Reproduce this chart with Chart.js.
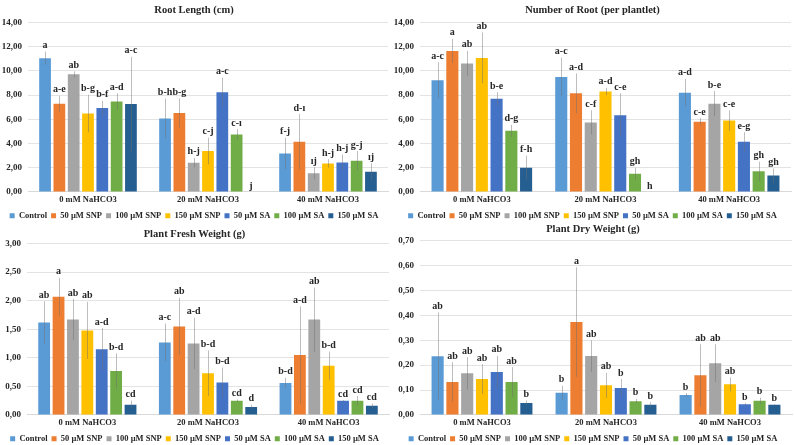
<!DOCTYPE html>
<html>
<head>
<meta charset="utf-8">
<script src="https://cdn.jsdelivr.net/npm/chart.js@4.4.1/dist/chart.umd.min.js"></script>
<style>
  body { margin: 0; background: #fff; }
  .box { position: absolute; }
</style>
</head>
<body>
<div class="box" style="left:0;top:0;width:397px;height:223px"><canvas id="rootLengthChart"></canvas></div>
<div class="box" style="left:394px;top:0;width:400px;height:223px"><canvas id="rootNumberChart"></canvas></div>
<div class="box" style="left:0;top:224px;width:397px;height:221px"><canvas id="freshWeightChart"></canvas></div>
<div class="box" style="left:394px;top:219px;width:400px;height:226px"><canvas id="dryWeightChart"></canvas></div>
<script>
// categorieen en behandelingen
const categories = ['0 mM NaHCO3', '20 mM NaHCO3', '40 mM NaHCO3'];
const treatments = ['Control', '50 µM SNP', '100 µM SNP', '150 µM SNP', '50 µM SA', '100 µM SA', '150 µM SA'];
const colors = ['#5B9BD5', '#ED7D31', '#A5A5A5', '#FFC000', '#4472C4', '#70AD47', '#255E91'];

// Root Length (cm) - per behandeling: [0 mM, 20 mM, 40 mM]
const rootLength = [
  [11.06, 6.07, 3.18], [7.30, 6.53, 4.14], [9.72, 2.42, 1.54], [6.48, 3.38, 2.36],
  [6.94, 8.24, 2.44], [7.47, 4.75, 2.58], [7.27, 0, 1.67]
];
const rootLengthErr = [
  [0.55, 1.65, 1.30], [0.65, 1.20, 2.30], [0.25, 0.40, 0.50], [1.55, 1.10, 0.35],
  [0.60, 1.20, 0.65], [0.70, 0.45, 0.80], [3.90, 0, 0.70]
];
const rootLengthLetters = [
  ['a', 'b-h', 'f-j'], ['a-e', 'b-g', 'd-ı'], ['ab', 'h-j', 'ıj'], ['b-g', 'c-j', 'h-j'],
  ['b-f', 'a-c', 'h-j'], ['a-d', 'c-ı', 'g-j'], ['a-c', 'j', 'ıj']
];

// Number of Root (per plantlet)
const rootNumber = [
  [9.23, 9.50, 8.20], [11.66, 8.15, 5.80], [10.61, 5.75, 7.30], [11.08, 8.30, 5.90],
  [7.70, 6.35, 4.15], [5.05, 1.50, 1.70], [2.00, 0, 1.35]
];
const rootNumberErr = [
  [1.50, 1.60, 1.15], [1.00, 1.65, 0.30], [1.05, 1.00, 1.05], [2.10, 0.30, 0.85],
  [0.55, 1.80, 0.80], [0.50, 0.50, 0.80], [1.00, 0, 0.60]
];
const rootNumberLetters = [
  ['a-c', 'a-c', 'a-d'], ['a', 'a-d', 'c-e'], ['ab', 'c-f', 'b-e'], ['ab', 'a-d', 'c-e'],
  ['b-e', 'c-e', 'e-g'], ['d-g', 'gh', 'gh'], ['f-h', 'h', 'gh']
];

// Plant Fresh Weight (g)
const freshWeight = [
  [1.62, 1.27, 0.56], [2.07, 1.55, 1.05], [1.67, 1.25, 1.67], [1.48, 0.73, 0.86],
  [1.15, 0.57, 0.25], [0.77, 0.25, 0.25], [0.18, 0.14, 0.16]
];
const freshWeightErr = [
  [0.37, 0.33, 0.09], [0.33, 0.50, 0.85], [0.36, 0.45, 0.56], [0.50, 0.40, 0.25],
  [0.37, 0.26, 0.01], [0.31, 0.02, 0.08], [0.07, 0.04, 0.04]
];
const freshWeightLetters = [
  ['ab', 'a-c', 'b-d'], ['a', 'ab', 'a-d'], ['ab', 'a-d', 'ab'], ['ab', 'b-d', 'b-d'],
  ['a-d', 'b-d', 'cd'], ['b-d', 'cd', 'cd'], ['cd', 'd', 'cd']
];

// Plant Dry Weight (g)
const dryWeight = [
  [0.236, 0.089, 0.080], [0.132, 0.373, 0.159], [0.167, 0.237, 0.208], [0.144, 0.119, 0.123],
  [0.172, 0.108, 0.043], [0.132, 0.055, 0.057], [0.048, 0.041, 0.041]
];
const dryWeightErr = [
  [0.175, 0.028, 0.008], [0.080, 0.220, 0.125], [0.065, 0.063, 0.076], [0.060, 0.050, 0.028],
  [0.065, 0.036, 0.005], [0.060, 0.010, 0.013], [0.010, 0.010, 0.002]
];
const dryWeightLetters = [
  ['ab', 'b', 'b'], ['ab', 'a', 'ab'], ['ab', 'ab', 'ab'], ['ab', 'ab', 'ab'],
  ['ab', 'b', 'b'], ['ab', 'b', 'b'], ['b', 'b', 'b']
];

const serif = '"Liberation Serif", "Times New Roman", serif';

// plugin: foutbalken en letters boven de staven
const errorLetters = {
  id: 'errorLetters',
  afterDatasetsDraw(chart, args, opts) {
    const ctx = chart.ctx;
    const y = chart.scales.y;
    ctx.save();
    chart.data.datasets.forEach((ds, i) => {
      const meta = chart.getDatasetMeta(i);
      if (meta.hidden) return;
      meta.data.forEach((bar, j) => {
        const v = ds.data[j];
        const e = opts.errors[i][j];
        const top = y.getPixelForValue(v + e);
        if (e > 0) {
          ctx.strokeStyle = 'rgba(110,110,110,0.45)';
          ctx.lineWidth = 1;
          ctx.beginPath();
          ctx.moveTo(Math.round(bar.x) + 0.5, top);
          ctx.lineTo(Math.round(bar.x) + 0.5, y.getPixelForValue(Math.max(0, v - e)));
          ctx.stroke();
        }
        ctx.fillStyle = '#262626';
        ctx.font = 'bold 10px ' + serif;
        ctx.textAlign = 'center';
        ctx.textBaseline = 'bottom';
        ctx.fillText(opts.letters[i][j], bar.x, top - 1);
      });
    });
    ctx.restore();
  }
};

// opmaak per paneel: breedte y-as, marges, titel marge
function makeChart(id, title, values, errors, letters, max, step, yWidth, padRight, padBottom, titleBottom) {
  new Chart(document.getElementById(id), {
    type: 'bar',
    data: {
      labels: categories,
      datasets: treatments.map((t, i) => ({
        label: t,
        data: values[i],
        backgroundColor: colors[i],
        categoryPercentage: 0.835,
        barPercentage: 0.82
      }))
    },
    options: {
      responsive: true,
      maintainAspectRatio: false,
      animation: false,
      layout: { padding: { left: 0, right: padRight, top: 0, bottom: padBottom } },
      plugins: {
        title: {
          display: true,
          text: title,
          color: '#262626',
          font: { family: serif, size: 10.5, weight: 'bold' },
          padding: { top: 4, bottom: titleBottom }
        },
        legend: {
          position: 'bottom',
          labels: {
            color: '#262626',
            boxWidth: 5,
            boxHeight: 5,
            padding: 4,
            font: { family: serif, size: 8.5, weight: 'bold' }
          }
        },
        tooltip: { enabled: false },
        errorLetters: { errors: errors, letters: letters }
      },
      scales: {
        x: {
          grid: { display: false, drawTicks: false },
          border: { color: '#d9d9d9' },
          ticks: { color: '#262626', font: { family: serif, size: 8.5, weight: 'bold', lineHeight: 0.42 }, padding: 6 }
        },
        y: {
          min: 0,
          max: max,
          afterFit: (s) => { s.width = yWidth; },
          grid: { color: '#e3e3e3', drawTicks: false },
          border: { display: false },
          ticks: {
            stepSize: step,
            padding: 6,
            color: '#262626',
            font: { family: serif, size: 9, weight: 'bold' },
            callback: (v) => v.toFixed(2).replace('.', ',')
          }
        }
      }
    },
    plugins: [errorLetters]
  });
}

makeChart('rootLengthChart', 'Root Length (cm)', rootLength, rootLengthErr, rootLengthLetters, 14, 2, 28, 9, -7, 6);
makeChart('rootNumberChart', 'Number of Root (per plantlet)', rootNumber, rootNumberErr, rootNumberLetters, 14, 2, 26, 3, -7, 6);
makeChart('freshWeightChart', 'Plant Fresh Weight (g)', freshWeight, freshWeightErr, freshWeightLetters, 3, 0.5, 27, 8, -8, 3);
makeChart('dryWeightChart', 'Plant Dry Weight (g)', dryWeight, dryWeightErr, dryWeightLetters, 0.7, 0.1, 26, 2, -8, 5);
</script>
</body>
</html>
